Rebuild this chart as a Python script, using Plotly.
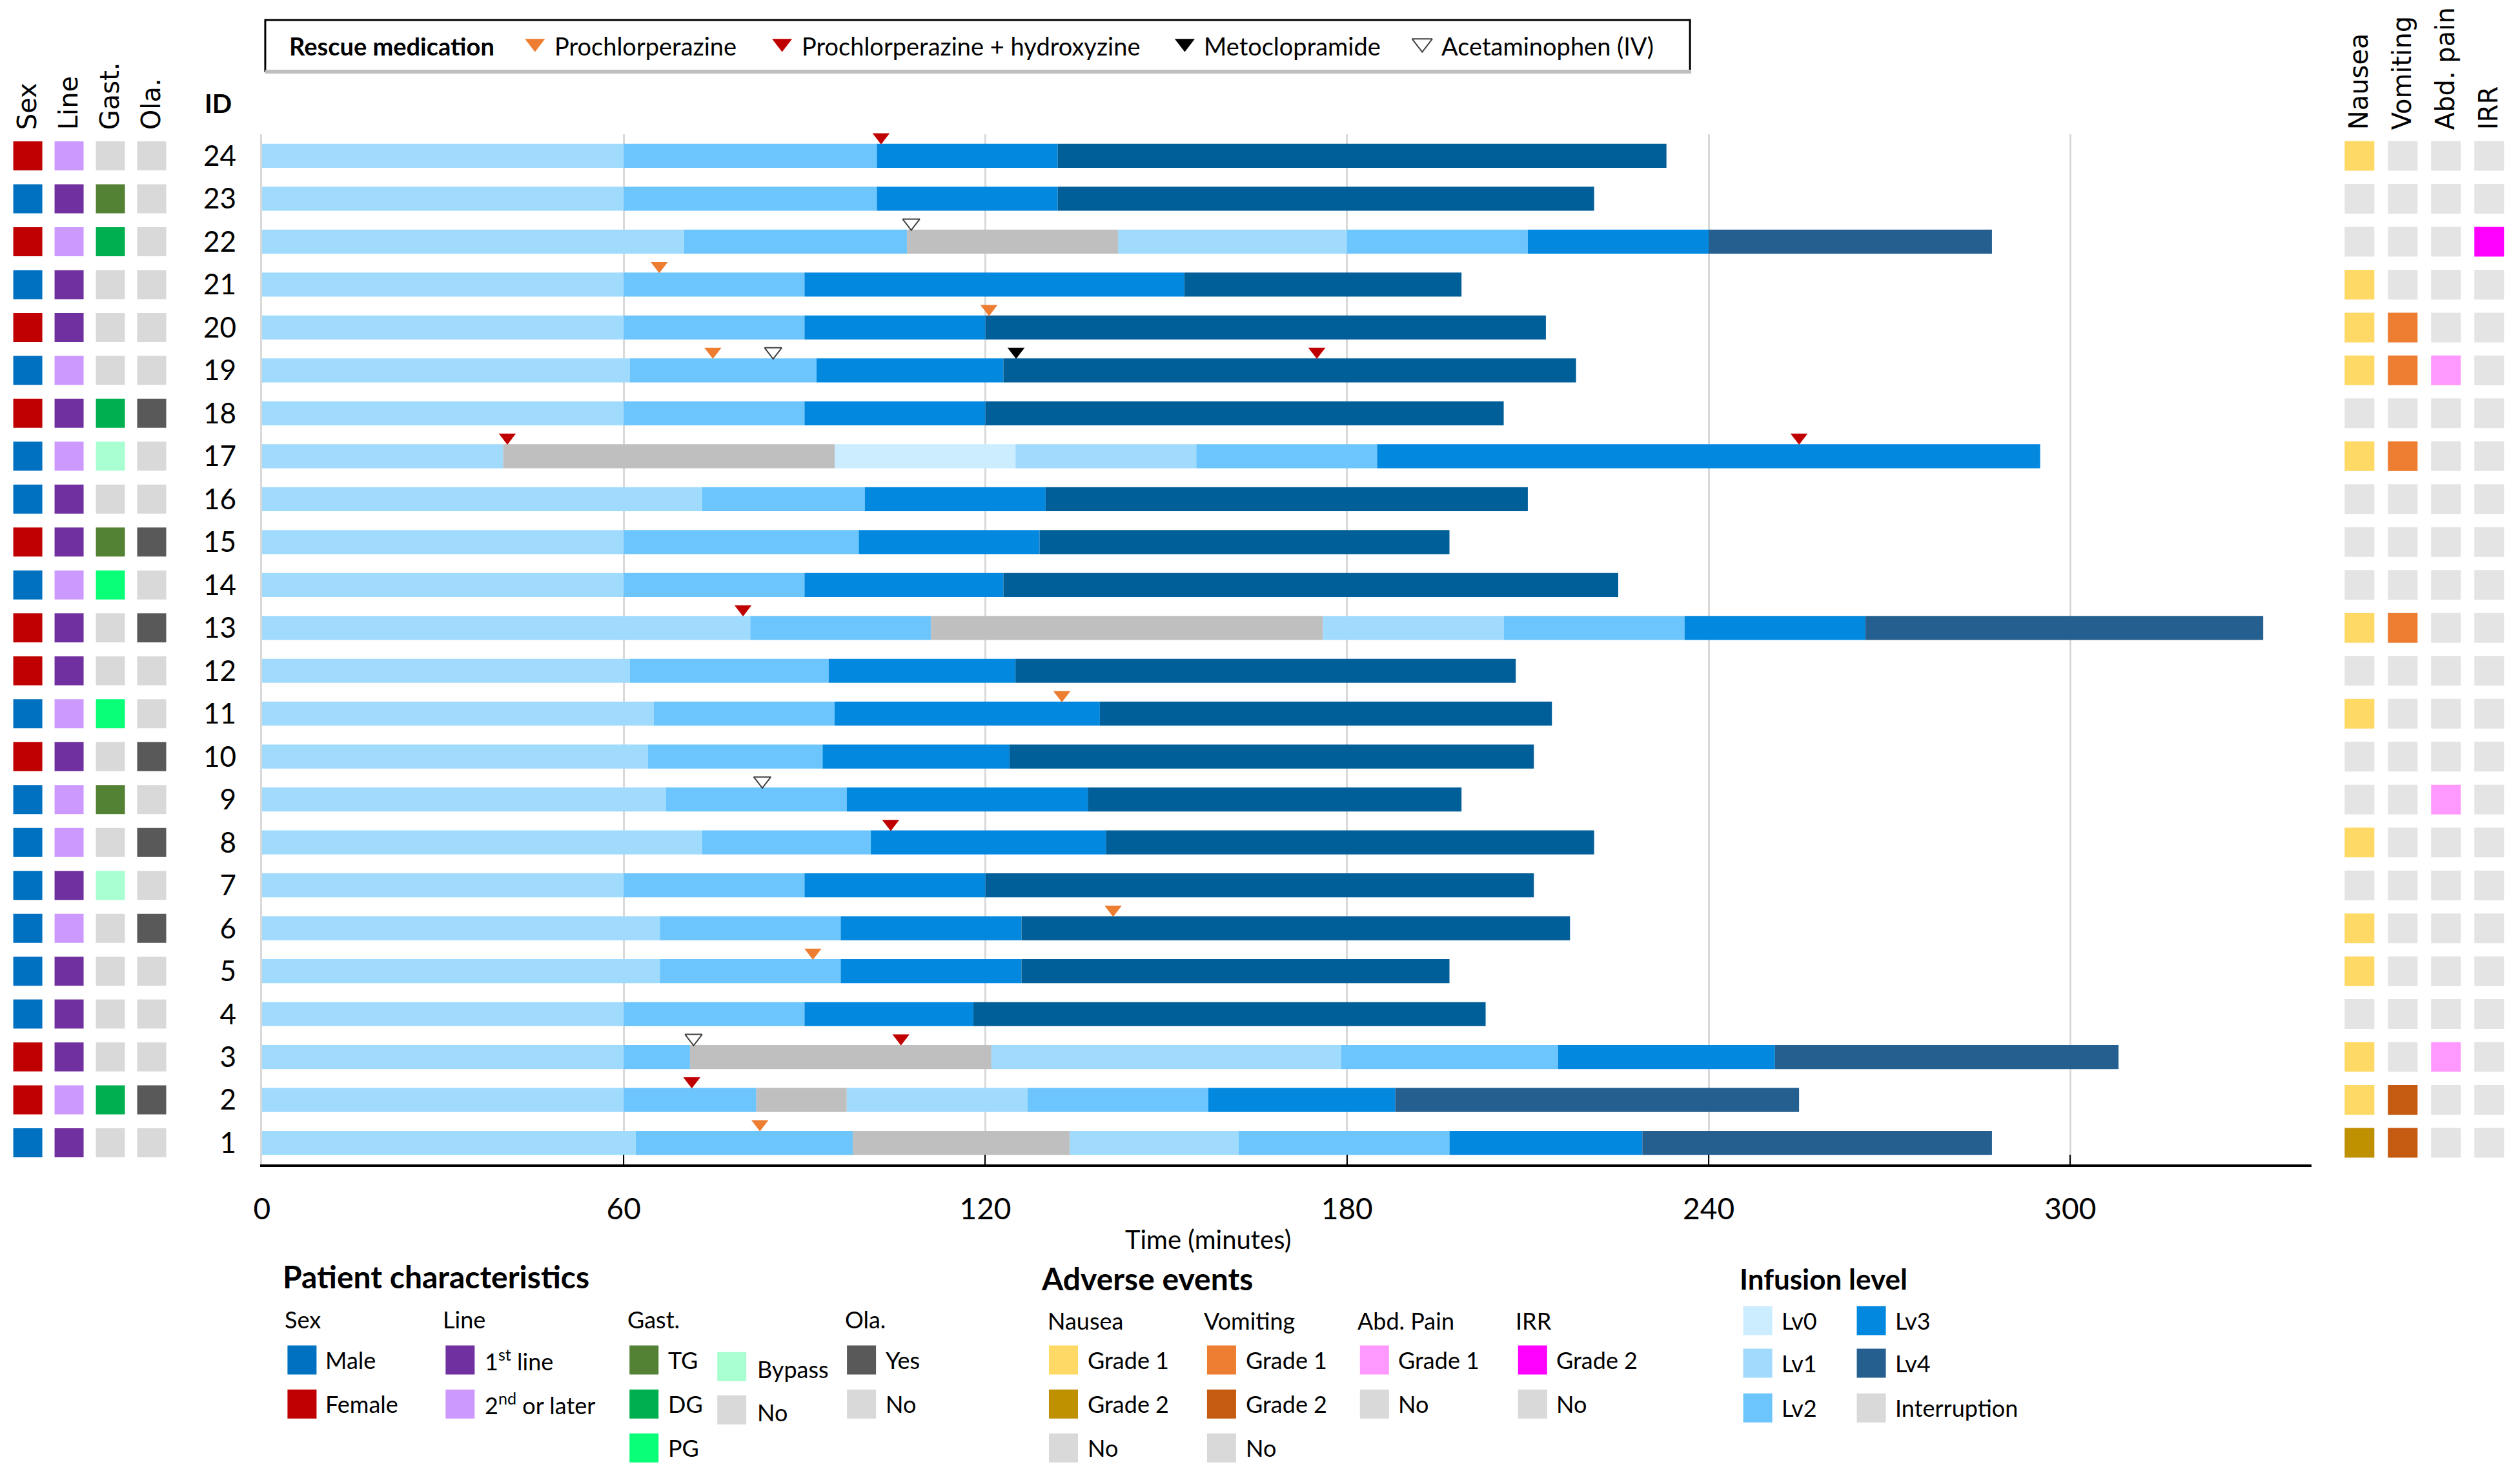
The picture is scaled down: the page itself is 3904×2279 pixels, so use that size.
import plotly.graph_objects as go

W, H = 3904, 2279

# patient IDs, top row first
ids = [24, 23, 22, 21, 20, 19, 18, 17, 16, 15, 14, 13, 12, 11, 10, 9, 8, 7, 6, 5, 4, 3, 2, 1]

# infusion: end time (minutes) of each segment and its level, per patient
seg_ends = [
    [60, 102, 132, 233],
    [60, 102, 132, 221],
    [70, 107, 142, 180, 210, 240, 287],
    [60, 90, 153, 199],
    [60, 90, 120, 213],
    [61, 92, 123, 218],
    [60, 90, 120, 206],
    [40, 95, 125, 155, 185, 295],
    [73, 100, 130, 210],
    [60, 99, 129, 197],
    [60, 90, 123, 225],
    [81, 111, 176, 206, 236, 266, 332],
    [61, 94, 125, 208],
    [65, 95, 139, 214],
    [64, 93, 124, 211],
    [67, 97, 137, 199],
    [73, 101, 140, 221],
    [60, 90, 120, 211],
    [66, 96, 126, 217],
    [66, 96, 126, 197],
    [60, 90, 118, 203],
    [60, 71, 121, 179, 215, 251, 308],
    [60, 82, 97, 127, 157, 188, 255],
    [62, 98, 134, 162, 197, 229, 287],
]
seg_levels = [
    ["Lv1", "Lv2", "Lv3", "Lv4"],
    ["Lv1", "Lv2", "Lv3", "Lv4"],
    ["Lv1", "Lv2", "Int", "Lv1", "Lv2", "Lv3", "Lv4"],
    ["Lv1", "Lv2", "Lv3", "Lv4"],
    ["Lv1", "Lv2", "Lv3", "Lv4"],
    ["Lv1", "Lv2", "Lv3", "Lv4"],
    ["Lv1", "Lv2", "Lv3", "Lv4"],
    ["Lv1", "Int", "Lv0", "Lv1", "Lv2", "Lv3"],
    ["Lv1", "Lv2", "Lv3", "Lv4"],
    ["Lv1", "Lv2", "Lv3", "Lv4"],
    ["Lv1", "Lv2", "Lv3", "Lv4"],
    ["Lv1", "Lv2", "Int", "Lv1", "Lv2", "Lv3", "Lv4"],
    ["Lv1", "Lv2", "Lv3", "Lv4"],
    ["Lv1", "Lv2", "Lv3", "Lv4"],
    ["Lv1", "Lv2", "Lv3", "Lv4"],
    ["Lv1", "Lv2", "Lv3", "Lv4"],
    ["Lv1", "Lv2", "Lv3", "Lv4"],
    ["Lv1", "Lv2", "Lv3", "Lv4"],
    ["Lv1", "Lv2", "Lv3", "Lv4"],
    ["Lv1", "Lv2", "Lv3", "Lv4"],
    ["Lv1", "Lv2", "Lv3", "Lv4"],
    ["Lv1", "Lv2", "Int", "Lv1", "Lv2", "Lv3", "Lv4"],
    ["Lv1", "Lv2", "Int", "Lv1", "Lv2", "Lv3", "Lv4"],
    ["Lv1", "Lv2", "Int", "Lv1", "Lv2", "Lv3", "Lv4"],
]

# rescue medication events
rescue_id = [24, 22, 21, 20, 19, 19, 19, 19, 17, 17, 13, 11, 9, 8, 6, 5, 3, 3, 2, 1]
rescue_time = [102.7, 107.7, 65.9, 120.6, 74.8, 84.8, 125.1, 175.0, 40.7, 255.0,
               79.8, 132.7, 83.0, 104.3, 141.2, 91.4, 71.6, 106.0, 71.3, 82.6]
rescue_drug = ["PH", "AC", "P", "P", "P", "AC", "M", "PH", "PH", "PH",
               "PH", "P", "AC", "PH", "P", "P", "AC", "PH", "PH", "P"]

# patient characteristics (same order as ids)
sex = ["F", "M", "F", "M", "F", "M", "F", "M", "M", "F", "M", "F",
       "F", "M", "F", "M", "M", "M", "M", "M", "M", "F", "F", "M"]
line = ["2", "1", "2", "1", "1", "2", "1", "2", "1", "1", "2", "1",
        "1", "2", "1", "2", "2", "1", "2", "1", "1", "1", "2", "1"]
gast = ["No", "TG", "DG", "No", "No", "No", "DG", "Bypass", "No", "TG", "PG", "No",
        "No", "PG", "No", "TG", "No", "Bypass", "No", "No", "No", "No", "DG", "No"]
ola = ["No", "No", "No", "No", "No", "No", "Yes", "No", "No", "Yes", "No", "Yes",
       "No", "No", "Yes", "No", "Yes", "No", "Yes", "No", "No", "No", "Yes", "No"]

# adverse events grade (0 = none)
nausea = [1, 0, 0, 1, 1, 1, 0, 1, 0, 0, 0, 1, 0, 1, 0, 0, 1, 0, 1, 1, 0, 1, 1, 2]
vomiting = [0, 0, 0, 0, 1, 1, 0, 1, 0, 0, 0, 1, 0, 0, 0, 0, 0, 0, 0, 0, 0, 0, 2, 2]
abd_pain = [0, 0, 0, 0, 0, 1, 0, 0, 0, 0, 0, 0, 0, 0, 0, 1, 0, 0, 0, 0, 0, 1, 0, 0]
irr = [0, 0, 2, 0, 0, 0, 0, 0, 0, 0, 0, 0, 0, 0, 0, 0, 0, 0, 0, 0, 0, 0, 0, 0]

FONT = "Lato, Open Sans, sans-serif"
HEAD_FONT = "DejaVu Sans"
level_colors = {"Lv0": "#CCECFF", "Lv1": "#A0DBFE", "Lv2": "#6CC5FC",
                "Lv3": "#0289DF", "Lv4": "#005E98", "Int": "#BFBFBF"}
lv4_restart = "#255F8F"
drug_names = {"P": "Prochlorperazine", "PH": "Prochlorperazine + hydroxyzine",
              "M": "Metoclopramide", "AC": "Acetaminophen (IV)"}
drug_marker = {
    "P": dict(color="#ED7D31", line=dict(width=0)),
    "PH": dict(color="#C00000", line=dict(width=0)),
    "M": dict(color="#000000", line=dict(width=0)),
    "AC": dict(color="white", line=dict(color="#404040", width=2)),
}
pc_cols = ["Sex", "Line", "Gast.", "Ola."]
pc_colors = {
    "Sex": {"M": "#0070C0", "F": "#C00000"},
    "Line": {"1": "#7030A0", "2": "#CC99FF"},
    "Gast.": {"TG": "#548235", "DG": "#00B050", "PG": "#0AFF78", "Bypass": "#A9FFD1", "No": "#D9D9D9"},
    "Ola.": {"Yes": "#595959", "No": "#D9D9D9"},
}
ae_cols = ["Nausea", "Vomiting", "Abd. pain", "IRR"]
ae_colors = {
    "Nausea": {0: "#E4E4E4", 1: "#FFD966", 2: "#BF9000"},
    "Vomiting": {0: "#E4E4E4", 1: "#ED7D31", 2: "#C55A11"},
    "Abd. pain": {0: "#E4E4E4", 1: "#FF99FF"},
    "IRR": {0: "#E4E4E4", 2: "#FF00FF"},
}


# page pixel -> figure pixel (compensates the page offset seen in the render)
def X(p):
    return 1.003 * p - 21


def Y(p):
    return 1.001 * p - 7


fig = go.Figure()

# infusion bars
for lv in ["Lv0", "Lv1", "Lv2", "Lv3", "Lv4", "Int"]:
    ys, bases, lens, cols = [], [], [], []
    for pid, ends, levels in zip(ids, seg_ends, seg_levels):
        start = 0
        for end, l in zip(ends, levels):
            if l == lv:
                ys.append(pid)
                bases.append(start)
                lens.append(end - start)
                if lv == "Lv4" and "Int" in levels:
                    cols.append(lv4_restart)
                else:
                    cols.append(level_colors[lv])
            start = end
    fig.add_trace(go.Bar(y=ys, x=lens, base=bases, orientation="h", width=0.56,
                         marker=dict(color=cols, line=dict(width=0)),
                         showlegend=False, xaxis="x", yaxis="y"))

# rescue medication markers, sitting on top of the bars
for d in ["P", "PH", "M", "AC"]:
    xs = [t for t, dd in zip(rescue_time, rescue_drug) if dd == d]
    ys = [i + 0.44 for i, dd in zip(rescue_id, rescue_drug) if dd == d]
    fig.add_trace(go.Scatter(x=xs, y=ys, mode="markers", cliponaxis=False,
                             marker=dict(symbol="triangle-down", size=23, **drug_marker[d]),
                             showlegend=False, xaxis="x", yaxis="y"))

# patient characteristic tiles
for col, vals in zip(pc_cols, [sex, line, gast, ola]):
    fig.add_trace(go.Scatter(x=[col] * len(ids), y=ids, mode="markers", cliponaxis=False,
                             marker=dict(symbol="square", size=45, line=dict(width=0),
                                         color=[pc_colors[col][v] for v in vals]),
                             showlegend=False, xaxis="x2", yaxis="y"))

# adverse event tiles
for col, vals in zip(ae_cols, [nausea, vomiting, abd_pain, irr]):
    fig.add_trace(go.Scatter(x=[col] * len(ids), y=ids, mode="markers", cliponaxis=False,
                             marker=dict(symbol="square", size=46, line=dict(width=0),
                                         color=[ae_colors[col][v] for v in vals]),
                             showlegend=False, xaxis="x3", yaxis="y"))


# ---- legends, placed in a pixel overlay axis ----
def ptext(x, y, s, size=36, bold=False, anchor="left", family=FONT):
    fig.add_annotation(x=x, y=y, xref="x4", yref="y4", text="<b>%s</b>" % s if bold else s,
                       showarrow=False, xanchor=anchor, yanchor="middle",
                       font=dict(family=family, size=size, color="black"))


def swatches(xs, ys, colors, symbol="square", size=45, line=None):
    fig.add_trace(go.Scatter(x=xs, y=ys, mode="markers", cliponaxis=False,
                             marker=dict(symbol=symbol, size=size, color=colors,
                                         line=line or dict(width=0)),
                             showlegend=False, xaxis="x4", yaxis="y4", hoverinfo="skip"))


# rescue medication box
fig.add_shape(type="rect", xref="x4", yref="y4", x0=411, x1=2619, y0=30, y1=109,
              line=dict(color="black", width=3), fillcolor="white", layer="below")
fig.add_shape(type="line", xref="x4", yref="y4", x0=411, x1=2621, y0=110, y1=110,
              line=dict(color="#BFBFBF", width=6))
ptext(446, 70, "Rescue medication", size=38, bold=True)
for d, tx in zip(["P", "PH", "M", "AC"], [829, 1212, 1836, 2204]):
    swatches([tx], [66], [drug_marker[d]["color"]], symbol="triangle-down", size=27,
             line=drug_marker[d]["line"])
    ptext(tx + 28, 70, drug_names[d], size=38)

ptext(338, 159, "ID", size=40, bold=True, anchor="center")

# patient characteristics legend
ptext(436, 1975, "Patient characteristics", size=48, bold=True)
for tx, s in zip([439, 684, 970, 1307], ["Sex", "Line", "Gast.", "Ola."]):
    ptext(tx, 2041, s)
swatches([468, 468], [2104, 2172], ["#0070C0", "#C00000"])
ptext(502, 2104, "Male")
ptext(502, 2172, "Female")
swatches([713, 713], [2104, 2172], ["#7030A0", "#CC99FF"])
ptext(749, 2104, "1<sup>st</sup> line")
ptext(749, 2172, "2<sup>nd</sup> or later")
swatches([998, 998, 998], [2104, 2172, 2240], ["#548235", "#00B050", "#0AFF78"])
ptext(1033, 2104, "TG")
ptext(1033, 2172, "DG")
ptext(1033, 2240, "PG")
swatches([1134, 1134], [2114, 2181], ["#A9FFD1", "#D9D9D9"])
ptext(1171, 2118, "Bypass")
ptext(1171, 2185, "No")
swatches([1335, 1335], [2104, 2172], ["#595959", "#D9D9D9"])
ptext(1370, 2104, "Yes")
ptext(1370, 2172, "No")

# adverse events legend
ptext(1611, 1978, "Adverse events", size=48, bold=True)
for tx, s in zip([1621, 1864, 2102, 2347], ["Nausea", "Vomiting", "Abd. Pain", "IRR"]):
    ptext(tx, 2043, s)
swatches([1648] * 3, [2104, 2172, 2240], ["#FFD966", "#BF9000", "#D9D9D9"])
ptext(1684, 2104, "Grade 1")
ptext(1684, 2172, "Grade 2")
ptext(1684, 2240, "No")
swatches([1893] * 3, [2104, 2172, 2240], ["#ED7D31", "#C55A11", "#D9D9D9"])
ptext(1929, 2104, "Grade 1")
ptext(1929, 2172, "Grade 2")
ptext(1929, 2240, "No")
swatches([2130] * 2, [2104, 2172], ["#FF99FF", "#D9D9D9"])
ptext(2165, 2104, "Grade 1")
ptext(2165, 2172, "No")
swatches([2375] * 2, [2104, 2172], ["#FF00FF", "#D9D9D9"])
ptext(2410, 2104, "Grade 2")
ptext(2410, 2172, "No")

# infusion level legend
ptext(2694, 1978, "Infusion level", size=44, bold=True)
swatches([2724] * 3, [2043, 2109, 2178], [level_colors["Lv0"], level_colors["Lv1"], level_colors["Lv2"]])
swatches([2900] * 3, [2043, 2109, 2178], [level_colors["Lv3"], lv4_restart, "#D9D9D9"])
for ty, s in zip([2043, 2109, 2178], ["Lv0", "Lv1", "Lv2"]):
    ptext(2759, ty, s)
for ty, s in zip([2043, 2109, 2178], ["Lv3", "Lv4", "Interruption"]):
    ptext(2935, ty, s)

ptext(1872, 1917, "Time (minutes)", size=40, anchor="center")

# left tile panel: first column centre at X(43), 64.2 px per column, starting at the page edge
pc_right = X(268)
pc_step = 64.2
pc_r0 = -X(43) / pc_step
pc_range = [pc_r0, pc_r0 + pc_right / pc_step]

fig.update_layout(
    width=W, height=H,
    margin=dict(l=0, r=0, t=0, b=0, pad=0),
    paper_bgcolor="white", plot_bgcolor="rgba(0,0,0,0)",
    barmode="overlay", showlegend=False,
    font=dict(family=FONT, color="black"),
    xaxis=dict(domain=[X(406) / W, X(3582) / W], range=[0, 340], anchor="y",
               tickvals=[0, 60, 120, 180, 240, 300], showgrid=True,
               gridcolor="#D9D9D9", gridwidth=3, zeroline=False,
               showline=True, linecolor="black", linewidth=4,
               ticks="inside", ticklen=15, tickwidth=2, tickcolor="black",
               tickfont=dict(family=FONT, size=46), ticklabelstandoff=26),
    yaxis=dict(domain=[1 - Y(1801) / H, 1 - Y(207) / H], range=[0.5, 24.5], anchor="x",
               tickvals=ids, ticktext=[str(i) for i in ids], showgrid=False,
               zeroline=False, showline=True, linecolor="#D9D9D9", linewidth=3,
               ticks="", tickfont=dict(family=FONT, size=44), ticklabelstandoff=28),
    xaxis2=dict(domain=[0, pc_right / W], anchor="y", side="top", type="category",
                categoryorder="array", categoryarray=pc_cols, range=pc_range,
                tickangle=-90, showgrid=False, showline=False, zeroline=False, ticks="",
                tickfont=dict(family=HEAD_FONT, size=40), ticklabelstandoff=6),
    xaxis3=dict(domain=[X(3623) / W, X(3891) / W], anchor="y", side="top", type="category",
                categoryorder="array", categoryarray=ae_cols, range=[-0.5, 3.5],
                tickangle=-90, showgrid=False, showline=False, zeroline=False, ticks="",
                tickfont=dict(family=HEAD_FONT, size=40), ticklabelstandoff=6),
    # pixel overlay for legend boxes and free text
    xaxis4=dict(domain=[0, 1], range=[20.94, 3913.3], anchor="y4", visible=False, fixedrange=True),
    yaxis4=dict(domain=[0, 1], range=[2283.7, 6.99], anchor="x4", visible=False, fixedrange=True),
)

fig.write_html("out.html")
